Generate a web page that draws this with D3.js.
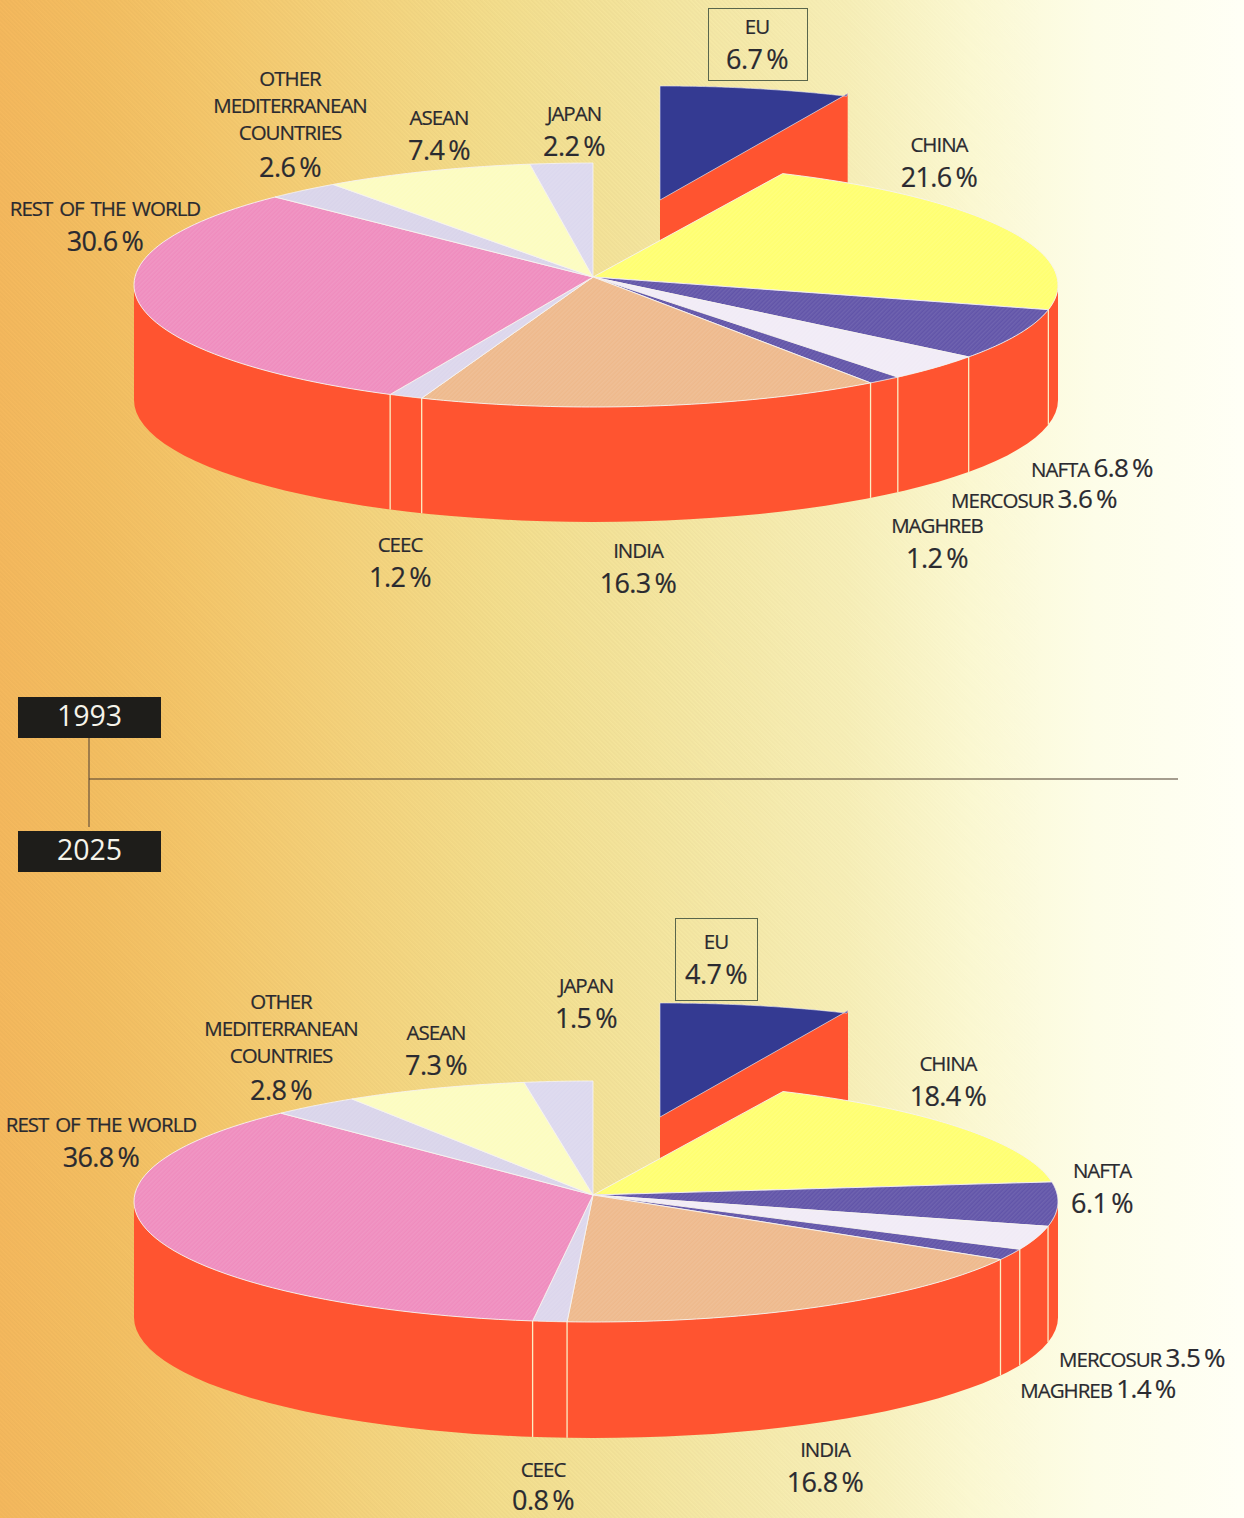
<!DOCTYPE html>
<html><head><meta charset="utf-8">
<script src="https://cdn.jsdelivr.net/npm/d3@7"></script>
<style>html,body{margin:0;padding:0;background:#fff}svg{display:block}text{font-family:"Open Sans","Noto Sans",sans-serif;fill:#2a2a30;stroke:#2a2a30;stroke-width:0.22px}</style>
</head><body><div id="chart"></div>
<script>
// ---- data ----
const regions = ["EU","CHINA","NAFTA","MERCOSUR","MAGHREB","INDIA","CEEC","REST OF THE WORLD","OTHER MEDITERRANEAN COUNTRIES","ASEAN","JAPAN"];
const shares1993 = [6.7,21.6,6.8,3.6,1.2,16.3,1.2,30.6,2.6,7.4,2.2];
const shares2025 = [4.7,18.4,6.1,3.5,1.4,16.8,0.8,36.8,2.8,7.3,1.5];
// The 2025 pie in the source is not drawn to its printed figures (its EU wedge reuses the 1993 shape):
// these are the slice sizes.
const drawn2025 = [6.7,15.7,5.9,3.2,1.5,17.9,1.2,36.0,3.1,6.4,2.4];
const years = ["1993","2025"];
const sliceColors = ["#343a92","#ffff70","#6154a8","#f1ebf6","#6154a8","#eeb98c","#dcd6ec","#ef8cbe","#d9d4ea","#fcfcc0","#dcd8ee"];
const wallColor = "#ff5430";

// ---- layout ----
const W = 1244, H = 1518;
const pieBoxes = [
  {top:163, bottom:407, apexY:277, depth:115, explodeX:67, explodeY:-77},
  {top:1081,bottom:1322,apexY:1195,depth:116, explodeX:67, explodeY:-78}
];
// name/value label anchors, by region order; "inline" = name and value on one row
const labelPos1993 = [[757,27],[939,145],[1092,469,"inline"],[1034,500,"inline"],[937,526],[638,551],[400,545],[105,209],[290,79],[439,118],[574,114]];
const labelPos2025 = [[716,942],[948,1064],[1102,1171],[1142,1359,"inline"],[1098,1390,"inline"],[825,1450],[543,1470],[101,1125],[281,1002],[436,1033],[586,986]];
const euBoxes = [[708,8,99,72],[675,918,82,82]];

const svg = d3.select("#chart").append("svg").attr("width",W).attr("height",H).attr("viewBox",[0,0,W,H]);
const defs = svg.append("defs");
const grad = defs.append("linearGradient").attr("id","bg").attr("x1",0).attr("x2",1).attr("y1",0).attr("y2",0);
[[0,"#f5b95e"],[0.08,"#f4bf62"],[0.16,"#f5c76b"],[0.27,"#f5d27b"],[0.4,"#f4df8e"],[0.55,"#f5e8a4"],[0.68,"#f7efb8"],[0.78,"#fbf8d2"],[0.88,"#fdfde8"],[1,"#fffff6"]]
  .forEach(([o,c])=>grad.append("stop").attr("offset",o).attr("stop-color",c));
const pat = defs.append("pattern").attr("id","screen").attr("width",3).attr("height",3).attr("patternUnits","userSpaceOnUse").attr("patternTransform","rotate(45)");
pat.append("rect").attr("width",1.5).attr("height",3).attr("fill","#fff").attr("opacity",0.09);
const patBg = defs.append("pattern").attr("id","screenBg").attr("width",3).attr("height",3).attr("patternUnits","userSpaceOnUse").attr("patternTransform","rotate(-45)");
patBg.append("rect").attr("width",1.5).attr("height",3).attr("fill","#8a6a30").attr("opacity",0.05);
const fade = defs.append("linearGradient").attr("id","fade").attr("x1",0).attr("x2",1).attr("y1",0).attr("y2",0);
[[0,"#fff"],[0.5,"#fff"],[0.85,"#000"]].forEach(([o,c])=>fade.append("stop").attr("offset",o).attr("stop-color",c));
defs.append("mask").attr("id","fadeMask").attr("maskUnits","userSpaceOnUse").attr("x",0).attr("y",0).attr("width",W).attr("height",H)
  .append("rect").attr("width",W).attr("height",H).attr("fill","url(#fade)");

svg.append("rect").attr("width",W).attr("height",H).attr("fill","url(#bg)");
svg.append("rect").attr("width",W).attr("height",H).attr("fill","url(#screenBg)").attr("mask","url(#fadeMask)");

const pie = d3.pie().sort(null).value(d=>d);
const drawnValues = [shares1993, drawn2025];
const printedValues = [shares1993, shares2025];

drawnValues.forEach((vals,yi)=>{
  const box = pieBoxes[yi];
  const g = svg.append("g");
  // piecewise scales take the unit circle onto the flattened ellipse
  const sx = d3.scaleLinear().domain([-1,0,1]).range([134,593,1058]);
  const sy = d3.scaleLinear().domain([1,-1]).range([box.top,box.bottom]);
  const px = a=>sx(Math.sin(a));
  const py = a=>sy(Math.cos(a));
  const arcs = pie(vals);
  const line = d3.line();
  const samples = (a0,a1)=>d3.range(0,61).map(i=>a0+(a1-a0)*i/60);
  const rim = (a0,a1,dx=0,dy=0)=>samples(a0,a1).map(a=>[px(a)+dx,py(a)+dy]);

  // exploded EU wedge: wall then top
  const eu = arcs[0];
  const apexE = [sx(0)+box.explodeX, box.apexY+box.explodeY];
  const tipE = [px(eu.endAngle)+box.explodeX-2, py(eu.endAngle)+box.explodeY-3];
  g.append("path").attr("fill",wallColor)
    .attr("d",line([apexE,tipE,[tipE[0],tipE[1]+box.depth],[apexE[0],apexE[1]+box.depth]])+"Z");
  const euRim = rim(eu.startAngle,eu.endAngle,box.explodeX,box.explodeY);
  euRim[euRim.length-1] = tipE;
  g.append("path").attr("fill",sliceColors[0]).attr("stroke","#e8e8f4").attr("stroke-width",0.6)
    .attr("d",line([apexE,...euRim])+"Z");

  // main drum wall (front half of the ellipse)
  const front = rim(Math.PI/2,3*Math.PI/2);
  const frontB = rim(3*Math.PI/2,Math.PI/2,0,box.depth);
  g.append("path").attr("fill",wallColor).attr("d",line([...front,...frontB])+"Z");
  // seams on the wall
  arcs.slice(1,-1).forEach(d=>{
    const a=d.endAngle;
    if(a>Math.PI/2 && a<3*Math.PI/2){
      g.append("line").attr("x1",px(a)).attr("x2",px(a)).attr("y1",py(a)).attr("y2",py(a)+box.depth)
        .attr("stroke","#fbeec4").attr("stroke-width",1.3);
    }
  });

  // top slices
  arcs.slice(1).forEach(d=>{
    const dPath = line([[sx(0),box.apexY],...rim(d.startAngle,d.endAngle)])+"Z";
    g.append("path").attr("d",dPath).attr("fill",sliceColors[d.index]).attr("stroke","#f6f3f0").attr("stroke-width",0.9).attr("stroke-linejoin","round");
    g.append("path").attr("d",dPath).attr("fill","url(#screen)");
  });

  // labels
  const layer = svg.append("g");
  const pos = yi===0?labelPos1993:labelPos2025;
  const fmt = d3.format(".1f");
  const nameSize=20.5, valSize=27;
  regions.forEach((name,i)=>{
    const [x,y,mode]=pos[i];
    const value = fmt(printedValues[yi][i])+"\u2009%";
    if(mode==="inline"){
      const t=layer.append("text").attr("x",x).attr("y",y+8).attr("text-anchor","middle");
      t.append("tspan").attr("font-size",nameSize).attr("letter-spacing",-1).text(name+" ");
      t.append("tspan").attr("font-size",valSize-1).attr("letter-spacing",-0.6).text(value);
    } else {
      const rows = name.startsWith("OTHER")?["OTHER","MEDITERRANEAN","COUNTRIES"]:[name];
      rows.forEach((r,k)=>layer.append("text").attr("x",x).attr("y",y+7+k*27).attr("text-anchor","middle")
        .attr("font-size",nameSize).attr("letter-spacing",-1).attr("word-spacing",2.5).text(r));
      const base = y+7+(rows.length-1)*27+(rows.length>1?34:32)+3;
      layer.append("text").attr("x",x).attr("y",Math.min(base,H-8))
        .attr("text-anchor","middle").attr("font-size",valSize).attr("letter-spacing",-0.6).text(value);
    }
  });
  const b=euBoxes[yi];
  layer.append("rect").attr("x",b[0]+.5).attr("y",b[1]+.5).attr("width",b[2]).attr("height",b[3]).attr("fill","none").attr("stroke","#59664c").attr("stroke-width",1);
});

// year tags and connector
svg.append("line").attr("x1",89).attr("x2",89).attr("y1",737).attr("y2",827).attr("stroke","#5b4a3a").attr("stroke-width",1.1);
svg.append("line").attr("x1",89).attr("x2",1178).attr("y1",779).attr("y2",779).attr("stroke","#4d3d2e").attr("stroke-width",1.1);
years.forEach((y,i)=>{
  const top=[697,831][i];
  svg.append("rect").attr("x",18).attr("y",top).attr("width",143).attr("height",41).attr("fill","#1e1d1a");
  svg.append("text").attr("x",89.5).attr("y",top+29).attr("text-anchor","middle").attr("font-size",28.5).style("fill","#f6f4ea").style("stroke","none").text(y);
});
</script></body></html>
